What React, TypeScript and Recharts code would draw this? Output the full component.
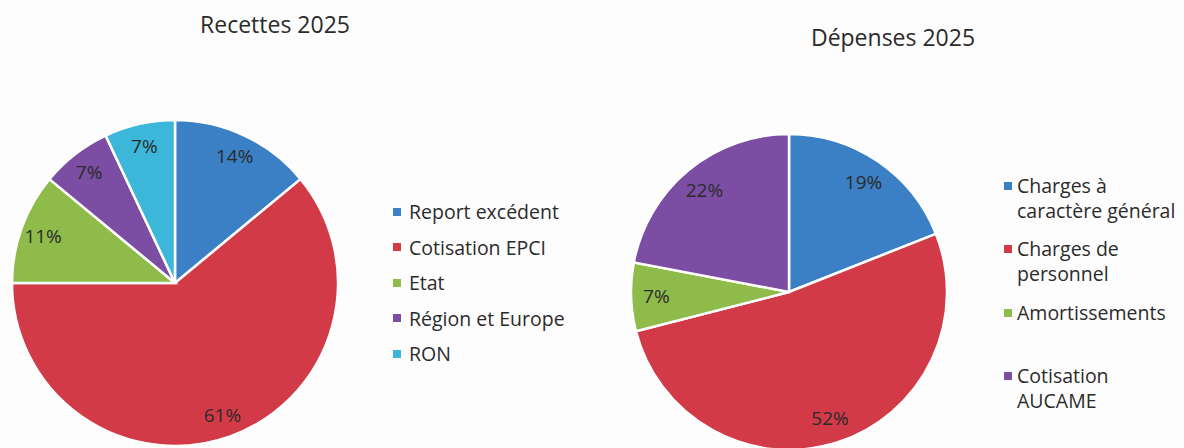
import React from "react";
import { PieChart, Pie, Cell, Legend } from "recharts";

const recettesNames = ["Report excédent", "Cotisation EPCI", "Etat", "Région et Europe", "RON"];
const recettesValues = [14, 61, 11, 7, 7];
const recettesColors = ["#3b7fc4", "#d23a48", "#8fbb4b", "#7b4ea3", "#3db7d9"];

const depensesNames = ["Charges à caractère général", "Charges de personnel", "Amortissements", "Cotisation AUCAME"];
const depensesValues = [19, 52, 7, 22];
const depensesColors = ["#3b7fc4", "#d23a48", "#8fbb4b", "#7b4ea3"];

const recettesData = recettesNames.map((name, i) => ({ name, value: recettesValues[i] }));
const depensesData = depensesNames.map((name, i) => ({ name, value: depensesValues[i] }));

const FONT = "'Open Sans', 'DejaVu Sans', sans-serif";
const TEXT = "#2b2b2b";
const RAD = Math.PI / 180;

const makeLabel = (ratio: number) => (props: any) => {
  const { cx, cy, midAngle, outerRadius, value } = props;
  const r = outerRadius * ratio;
  const x = cx + r * Math.cos(-midAngle * RAD);
  const y = cy + r * Math.sin(-midAngle * RAD);
  return (
    <text
      x={x}
      y={y}
      textAnchor="middle"
      dominantBaseline="central"
      fill={TEXT}
      fontSize={19}
      fontFamily={FONT}
    >
      {value}%
    </text>
  );
};

const ordered = (payload: any[], names: string[]) =>
  [...(payload || [])].sort((a, b) => names.indexOf(a.value) - names.indexOf(b.value));

const LeftLegend = (props: any) => {
  const items = ordered(props.payload, recettesNames);
  return (
    <div style={{ fontFamily: FONT, fontSize: 19.5, color: TEXT }}>
      {items.map((it: any, i: number) => (
        <div key={i} style={{ height: 35.5, display: "flex", alignItems: "center" }}>
          <span
            style={{ display: "inline-block", width: 8, height: 8, background: it.color, marginRight: 8 }}
          />
          <span style={{ lineHeight: "25px", whiteSpace: "nowrap" }}>{it.value}</span>
        </div>
      ))}
    </div>
  );
};

const RightLegend = (props: any) => {
  const items = ordered(props.payload, depensesNames);
  return (
    <div style={{ fontFamily: FONT, fontSize: 19.5, color: TEXT }}>
      {items.map((it: any, i: number) => (
        <div key={i} style={{ height: 63.5, display: "flex", alignItems: "flex-start" }}>
          <span
            style={{
              display: "inline-block",
              width: 8,
              height: 8,
              background: it.color,
              marginRight: 5,
              marginTop: 9,
              flex: "none",
            }}
          />
          <span style={{ lineHeight: "25px", width: 162 }}>{it.value}</span>
        </div>
      ))}
    </div>
  );
};

export default function App() {
  return (
    <div
      style={{
        position: "absolute",
        left: 0,
        top: 0,
        width: 1184,
        height: 448,
        background: "#fdfdfd",
        overflow: "hidden",
        fontFamily: FONT,
      }}
    >
      <div
        style={{
          position: "absolute",
          left: 175,
          top: 10,
          width: 200,
          textAlign: "center",
          fontSize: 23,
          lineHeight: "28px",
          color: TEXT,
        }}
      >
        Recettes 2025
      </div>
      <div
        style={{
          position: "absolute",
          left: 793,
          top: 23,
          width: 200,
          textAlign: "center",
          fontSize: 23,
          lineHeight: "28px",
          color: TEXT,
        }}
      >
        Dépenses 2025
      </div>

      <div style={{ position: "absolute", left: 0, top: 0 }}>
        <PieChart width={592} height={448} margin={{ top: 0, right: 0, bottom: 0, left: 0 }}>
          <Pie
            data={recettesData}
            dataKey="value"
            nameKey="name"
            cx={175}
            cy={283}
            outerRadius={163}
            startAngle={90}
            endAngle={-270}
            stroke="#ffffff"
            strokeWidth={2.5}
            label={makeLabel(0.86)}
            labelLine={false}
            isAnimationActive={false}
          >
            {recettesData.map((d, i) => (
              <Cell key={d.name} fill={recettesColors[i]} />
            ))}
          </Pie>
          <Legend
            layout="vertical"
            verticalAlign="middle"
            align="right"
            content={LeftLegend}
            wrapperStyle={{ left: 393, top: 194, right: "auto", width: 190 }}
          />
        </PieChart>
      </div>

      <div style={{ position: "absolute", left: 592, top: 0 }}>
        <PieChart width={592} height={448} margin={{ top: 0, right: 0, bottom: 0, left: 0 }}>
          <Pie
            data={depensesData}
            dataKey="value"
            nameKey="name"
            cx={197}
            cy={292}
            outerRadius={158}
            startAngle={90}
            endAngle={-270}
            stroke="#ffffff"
            strokeWidth={2.5}
            label={makeLabel(0.84)}
            labelLine={false}
            isAnimationActive={false}
          >
            {depensesData.map((d, i) => (
              <Cell key={d.name} fill={depensesColors[i]} />
            ))}
          </Pie>
          <Legend
            layout="vertical"
            verticalAlign="middle"
            align="right"
            content={RightLegend}
            wrapperStyle={{ left: 412, top: 172.5, right: "auto", width: 180 }}
          />
        </PieChart>
      </div>
    </div>
  );
}
